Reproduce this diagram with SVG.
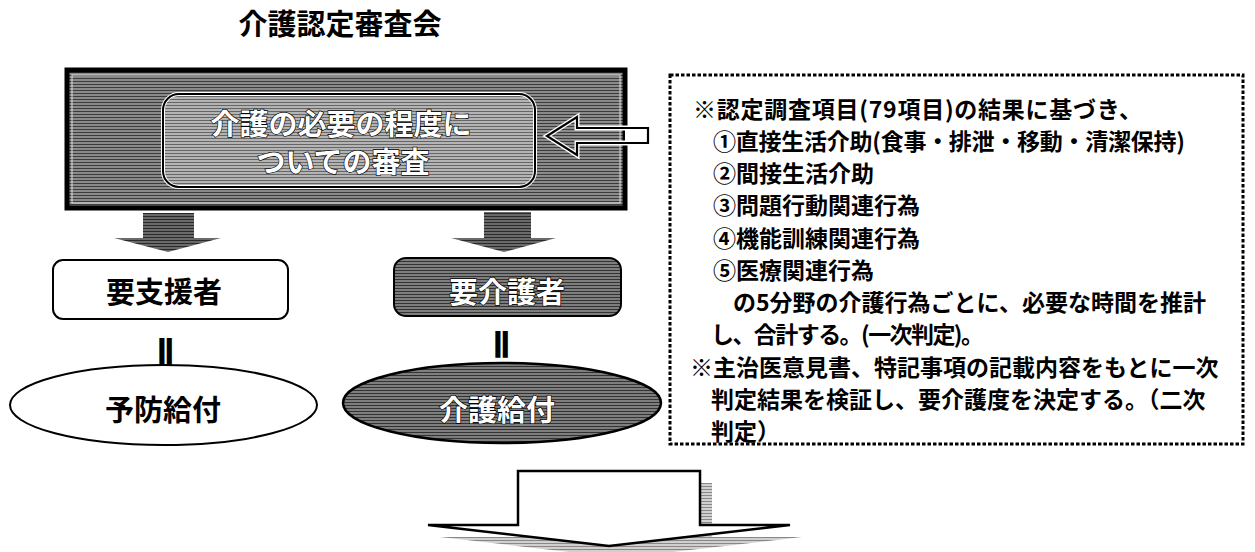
<svg xmlns="http://www.w3.org/2000/svg" width="1255" height="552" viewBox="0 0 1255 552">
<style>
text{font-family:"Noto Sans CJK JP","Noto Sans CJK SC",sans-serif;font-weight:700;fill:#000}
.big{font-size:29px;text-anchor:middle}
.inv{fill:#fff;stroke:#000;stroke-width:1.3px;paint-order:stroke}
.note{font-size:23px}
.dbl{font-family:"DejaVu Sans",sans-serif;font-size:27px;text-anchor:middle;font-weight:700}
</style>
<defs>
<pattern id="texD" width="3" height="3" patternUnits="userSpaceOnUse"><rect width="3" height="3" fill="#8a8a8a"/><rect width="3" height="1" fill="#3c3c3c"/></pattern>
<pattern id="texL" width="3" height="3" patternUnits="userSpaceOnUse"><rect width="3" height="3" fill="#b4b4b4"/><rect width="3" height="1" fill="#666"/></pattern>
<pattern id="texM" width="3" height="3" patternUnits="userSpaceOnUse"><rect width="3" height="3" fill="#7e7e7e"/><rect width="3" height="1" fill="#333"/></pattern>
<pattern id="texA" width="3" height="3" patternUnits="userSpaceOnUse"><rect width="3" height="3" fill="#6a6a6a"/><rect width="3" height="1" fill="#2a2a2a"/></pattern>
<pattern id="texS" width="3" height="3" patternUnits="userSpaceOnUse"><rect width="3" height="3" fill="#d0d0d0"/><rect width="3" height="1" fill="#888"/></pattern>
</defs>

<text class="big" x="340" y="35">介護認定審査会</text>

<g id="review">
<rect x="67" y="70" width="558" height="138" fill="url(#texD)" stroke="#000" stroke-width="5"/>
<rect x="72" y="75" width="548" height="128" fill="none" stroke="#ddd" stroke-width="1"/>
<rect x="163" y="94" width="372" height="93" rx="16" fill="url(#texL)" stroke="#fff" stroke-width="4"/>
<rect x="163" y="94" width="372" height="93" rx="16" fill="none" stroke="#000" stroke-width="2"/>
<text class="big inv" x="341" y="135">介護の必要の程度に</text>
<text class="big inv" x="343" y="173">ついての審査</text>
</g>

<g id="support">
<rect x="53" y="260" width="235" height="59" rx="10" fill="#fff" stroke="#000" stroke-width="2"/>
<text class="big" x="164" y="303">要支援者</text>
</g>

<g id="care">
<rect x="394" y="258" width="227" height="58" rx="12" fill="url(#texM)" stroke="#000" stroke-width="2"/>
<text class="big inv" x="507" y="303">要介護者</text>
</g>

<g id="prevent">
<ellipse cx="163.5" cy="405" rx="153.5" ry="40" fill="#fff" stroke="#000" stroke-width="2"/>
<text class="big" x="163" y="421">予防給付</text>
</g>

<g id="benefit">
<ellipse cx="502" cy="403" rx="159" ry="40" fill="url(#texM)" stroke="#000" stroke-width="2.5"/>
<text class="big inv" x="497" y="421">介護給付</text>
</g>

<g id="note">
<rect x="670" y="75" width="573" height="369" fill="none" stroke="#000" stroke-width="3" stroke-dasharray="3.5 2"/>
<text class="note" x="693" y="118" textLength="449" lengthAdjust="spacing">※認定調査項目(79項目)の結果に基づき、</text>
<text class="note" x="713" y="150" textLength="472" lengthAdjust="spacing">①直接生活介助(食事・排泄・移動・清潔保持)</text>
<text class="note" x="713" y="182">②間接生活介助</text>
<text class="note" x="713" y="214">③問題行動関連行為</text>
<text class="note" x="713" y="247">④機能訓練関連行為</text>
<text class="note" x="713" y="279">⑤医療関連行為</text>
<text class="note" x="733" y="311">の5分野の介護行為ごとに、必要な時間を推計</text>
<text class="note" x="711" y="343" textLength="273" lengthAdjust="spacing">し、合計する。(一次判定)。</text>
<text class="note" x="690" y="376">※主治医意見書、特記事項の記載内容をもとに一次</text>
<text class="note" x="711" y="408">判定結果を検証し、要介護度を決定する。（二次</text>
<text class="note" x="711" y="440">判定）</text>
</g>

<g id="connectors">
<path d="M547,136 L577,117 L577,128 L648,128 L648,143 L577,143 L577,155 Z" fill="none" stroke="#fff" stroke-width="5" stroke-linejoin="miter"/>
<path d="M625,128 L648,128 L648,143 L625,143 Z" fill="#fff"/>
<path d="M547,136 L577,117 L577,128 L648,128 L648,143 L577,143 L577,155 Z" fill="none" stroke="#000" stroke-width="2.2" stroke-linejoin="miter"/>
<polygon points="143,213 194,213 194,238 221,238 168,252 114,238 143,238" fill="url(#texA)"/>
<polygon points="484,212 531,212 531,238 556,238 504,252 451,238 484,238" fill="url(#texA)"/>
<text class="dbl" transform="translate(165,358) scale(1.7,1)">‖</text>
<text class="dbl" transform="translate(501,351) scale(1.7,1)">‖</text>
<polygon points="530,483 712,483 712,537 802,537 621,558 440,537 530,537" fill="url(#texS)"/>
<polygon points="518,471 700,471 700,525 790,525 609,546 428,525 518,525" fill="#fff" stroke="#000" stroke-width="2.5" stroke-linejoin="miter"/>
</g>
</svg>
